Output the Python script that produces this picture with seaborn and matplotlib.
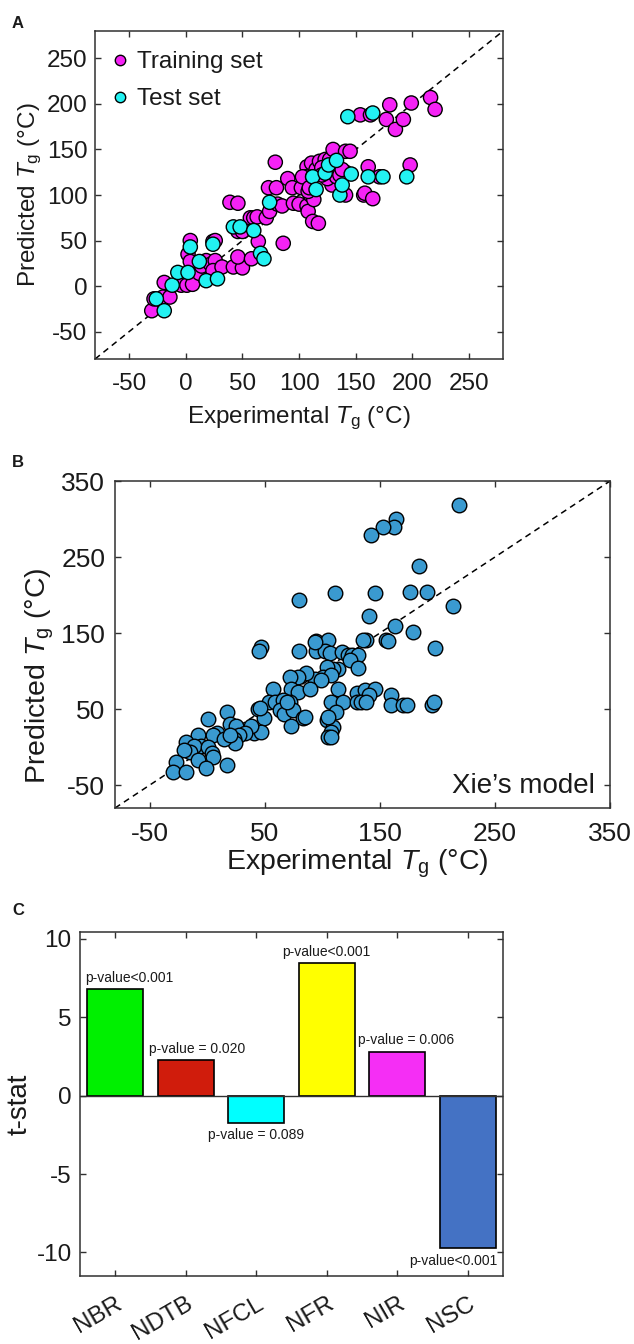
import numpy as np
import pandas as pd
import matplotlib
matplotlib.use('Agg')
import matplotlib.pyplot as plt
from matplotlib.lines import Line2D
import seaborn as sns

# ---------------- Panel A data ----------------
train_x = [-30, -28, -20, -14, -19, -4, 1, 6, 2, 4,
           4, 12, 14, 18, 22, 26, 24, 32, 24, 26,
           42, 50, 46, 58, 39, 46, 46, 50, 57, 60,
           63, 64, 71, 74, 73, 80, 79, 81, 85, 86,
           90, 94, 95, 100, 102, 107, 108, 107, 111, 106,
           110, 112, 117, 113, 115, 118, 123, 127, 130, 130,
           129, 141, 145, 141, 141, 157, 158, 165, 161, 171,
           198, 154, 163, 177, 180, 185, 192, 199, 216, 220,
           103, 108, 112, 120, 125, 133, 136, 138, 109, 120]
train_y = [-27, -14, -12, -12, 4, 1, 1, 2, 35, 50,
           27, 14, 22, 28, 24, 28, 17, 21, 49, 50,
           21, 20, 32, 30, 92, 91, 60, 60, 75, 75,
           76, 49, 75, 82, 108, 108, 136, 90, 88, 47,
           118, 108, 91, 90, 108, 88, 82, 131, 135, 120,
           100, 71, 69, 95, 128, 137, 139, 139, 150, 119,
           111, 148, 148, 100, 125, 100, 102, 96, 131, 120,
           133, 188, 188, 183, 199, 172, 183, 201, 207, 194,
           120, 104, 120, 130, 118, 120, 122, 128, 108, 122]
test_x = [-26, -19, -12, -7, 2, 4, 12, 18, 24, 28,
          42, 48, 60, 66, 69, 74, 112, 115, 123, 126,
          133, 136, 138, 146, 143, 165, 161, 174, 195]
test_y = [-14, -27, 1, 15, 15, 43, 27, 6, 46, 8,
          65, 65, 61, 36, 30, 92, 120, 106, 124, 133,
          138, 100, 111, 123, 186, 190, 120, 120, 120]

# ---------------- Panel B data (Xie's model) ----------------
xie_x = [219, 164, 162, 153, 142, 184, 111, 146, 176, 191,
         80, 214, 141, 163, 179, 198, 155, 157, 138, 135,
         47, 45, 80, 95, 105, 95, 102, 107, 117, 122,
         126, 131, 124, 131, 114, 109, 104, 101, 108, 94,
         99, 86, 79, 72, 73, 79, 89, 57, 54, 59,
         66, 72, 63, 67, 75, 83, 73, 44, 49, 41,
         47, 38, 17, 1, 20, 25, 33, 28, 23, 24,
         9, 5, 15, 20, -8, -5, -18, -11, -15, 1,
         4, 5, -8, -1, 17, -20, -27, -30, -18, 114,
         108, 118, 112, 104, 109, 108, 105, 108, 130, 137,
         146, 141, 130, 134, 138, 160, 160, 170, 174, 195,
         197, 46, 69, 85, 105, 94]
xie_y = [319, 300, 290, 290, 279, 238, 203, 203, 204, 204,
         193, 186, 173, 160, 152, 131, 141, 140, 141, 141,
         132, 127, 127, 139, 141, 127, 127, 124, 125, 121,
         121, 121, 114, 104, 103, 103, 106, 92, 95, 90,
         88, 98, 92, 92, 76, 73, 76, 76, 60, 60,
         62, 60, 49, 43, 49, 38, 28, 50, 39, 18,
         20, 28, 46, 37, 30, 28, 18, 16, 11, 5,
         18, 16, 11, 16, 16, 2, 7, 2, -6, 0,
         -8, -13, -17, -28, -23, -4, -19, -33, -33, 76,
         60, 59, 46, 36, 27, 20, 14, 14, 71, 75,
         76, 69, 60, 59, 60, 69, 55, 55, 55, 56,
         60, 51, 60, 40, 40, 138]

# ---------------- Panel C data ----------------
descriptors = ['NBR', 'NDTB', 'NFCL', 'NFR', 'NIR', 'NSC']
t_stat = [6.8, 2.3, -1.73, 8.48, 2.82, -9.72]
p_labels = ['p-value<0.001', 'p-value = 0.020', 'p-value = 0.089',
            'p-value<0.001', 'p-value = 0.006', 'p-value<0.001']
bar_colors = ['#00F000', '#D01C0C', '#00FFFF', '#FFFF00', '#F52EF5', '#4472C4']

ticksA = [-50, 0, 50, 100, 150, 200, 250]
ticksB = [-50, 50, 150, 250, 350]
ticksC = [-10, -5, 0, 5, 10]

MAG = '#F522F5'
CYA = '#22F2F2'
BLUE = '#3A9AD0'
INK = '#1a1a1a'

sns.set_theme(style='white')
plt.rcParams['font.family'] = ['Liberation Sans', 'DejaVu Sans']
plt.rcParams['mathtext.fontset'] = 'custom'
plt.rcParams['mathtext.rm'] = 'Liberation Sans'
plt.rcParams['mathtext.it'] = 'Liberation Sans:italic'
plt.rcParams['mathtext.bf'] = 'Liberation Sans:bold'
plt.rcParams['text.color'] = INK
plt.rcParams['axes.labelcolor'] = INK
plt.rcParams['axes.unicode_minus'] = False

fig = plt.figure(figsize=(6.34, 13.44), dpi=100)


def style_axes(ax, xpad, ypad, size):
    for s in ax.spines.values():
        s.set_visible(True)
        s.set_color('#303030')
        s.set_linewidth(1.1)
    ax.tick_params(direction='in', length=4.5, width=1, bottom=True, left=True,
                   top=True, right=True, labelsize=size, color='#303030', labelcolor=INK)
    ax.tick_params(axis='x', pad=xpad)
    ax.tick_params(axis='y', pad=ypad)


xlab = 'Experimental $T_\\mathrm{g}$ (\u00b0C)'
ylab = 'Predicted $T_\\mathrm{g}$ (\u00b0C)'

# ---------------- Panel A ----------------
axA = fig.add_axes([0.150, 0.7329, 0.6435, 0.2440])
dfA = pd.DataFrame({
    'exp': train_x + test_x,
    'pred': train_y + test_y,
    'set': ['Training set'] * len(train_x) + ['Test set'] * len(test_x),
})
axA.plot([-80, 280], [-80, 280], ls=(0, (4, 3)), color='black', lw=1.1, zorder=1)
sns.scatterplot(data=dfA, x='exp', y='pred', hue='set',
                palette={'Training set': MAG, 'Test set': CYA},
                s=105, edgecolor='black', linewidth=1, ax=axA, legend=False, zorder=3)
axA.set_xlim(-80, 280)
axA.set_ylim(-80, 280)
axA.set_xticks(ticksA)
axA.set_yticks(ticksA)
style_axes(axA, 10, 5.5, 17.5)
axA.set_xlabel(xlab, fontsize=17.5)
axA.set_ylabel(ylab, fontsize=17.5)
axA.xaxis.set_label_coords(0.5, -0.14)
axA.yaxis.set_label_coords(-0.125, 0.5)
handles = [Line2D([], [], ls='none', marker='o', markersize=7.5, markerfacecolor=c,
                  markeredgecolor='black', markeredgewidth=1) for c in (MAG, CYA)]
axA.legend(handles, ['Training set', 'Test set'], loc='upper left',
           bbox_to_anchor=(0, 0.976), frameon=False, fontsize=17.5,
           handlelength=1.07, handletextpad=0.17,
           borderaxespad=0.2, borderpad=0.3, labelspacing=0.62)

# ---------------- Panel B ----------------
axB = fig.add_axes([0.1814, 0.3988, 0.7808, 0.2433])
dfB = pd.DataFrame({'exp': xie_x, 'pred': xie_y})
axB.plot([-80, 350], [-80, 350], ls=(0, (4, 3)), color='black', lw=1.1, zorder=1)
sns.scatterplot(data=dfB, x='exp', y='pred', color=BLUE, s=110,
                edgecolor='black', linewidth=1, ax=axB, zorder=3)
axB.set_xlim(-80, 350)
axB.set_ylim(-80, 350)
axB.set_xticks(ticksB)
axB.set_yticks(ticksB)
style_axes(axB, 10, 7, 19)
axB.set_xlabel(xlab, fontsize=20.5)
axB.set_ylabel(ylab, fontsize=20.5)
axB.xaxis.set_label_coords(0.49, -0.12)
axB.yaxis.set_label_coords(-0.12, 0.404)
axB.text(0.97, 0.045, 'Xie\u2019s model', transform=axB.transAxes, ha='right',
         va='baseline', fontsize=20)

# ---------------- Panel C ----------------
axC = fig.add_axes([0.1262, 0.0506, 0.6672, 0.2560])
sns.barplot(x=descriptors, y=t_stat, hue=descriptors, palette=bar_colors, legend=False,
            saturation=1, width=0.8, edgecolor='black', linewidth=1.2, ax=axC, zorder=3)
axC.axhline(0, color='#303030', lw=1, zorder=4)
axC.set_xlim(-0.5, 5.5)
axC.set_ylim(-11.5, 10.45)
axC.set_yticks(ticksC)
style_axes(axC, 12, 6, 17.5)
axC.set_ylabel('t-stat', fontsize=20)
axC.yaxis.set_label_coords(-0.113, 0.5)
plt.setp(axC.get_xticklabels(), rotation=30, ha='right', va='top', rotation_mode='anchor')
p_dx = [0.2, 0.16, 0.0, 0.0, 0.13, -0.2]
for i, (v, lab) in enumerate(zip(t_stat, p_labels)):
    if v >= 0:
        axC.annotate(lab, (i + p_dx[i], v), xytext=(0, 3), textcoords='offset points',
                     ha='center', va='bottom', fontsize=10)
    else:
        axC.annotate(lab, (i + p_dx[i], v), xytext=(0, -4), textcoords='offset points',
                     ha='center', va='top', fontsize=10)

# panel letters
fig.text(0.019, 1 - 16 / 1344, 'A', fontsize=12, fontweight='bold', va='top')
fig.text(0.019, 1 - 455 / 1344, 'B', fontsize=12, fontweight='bold', va='top')
fig.text(0.019, 1 - 903 / 1344, 'C', fontsize=12, fontweight='bold', va='top')

fig.savefig('out.png', dpi=100)
